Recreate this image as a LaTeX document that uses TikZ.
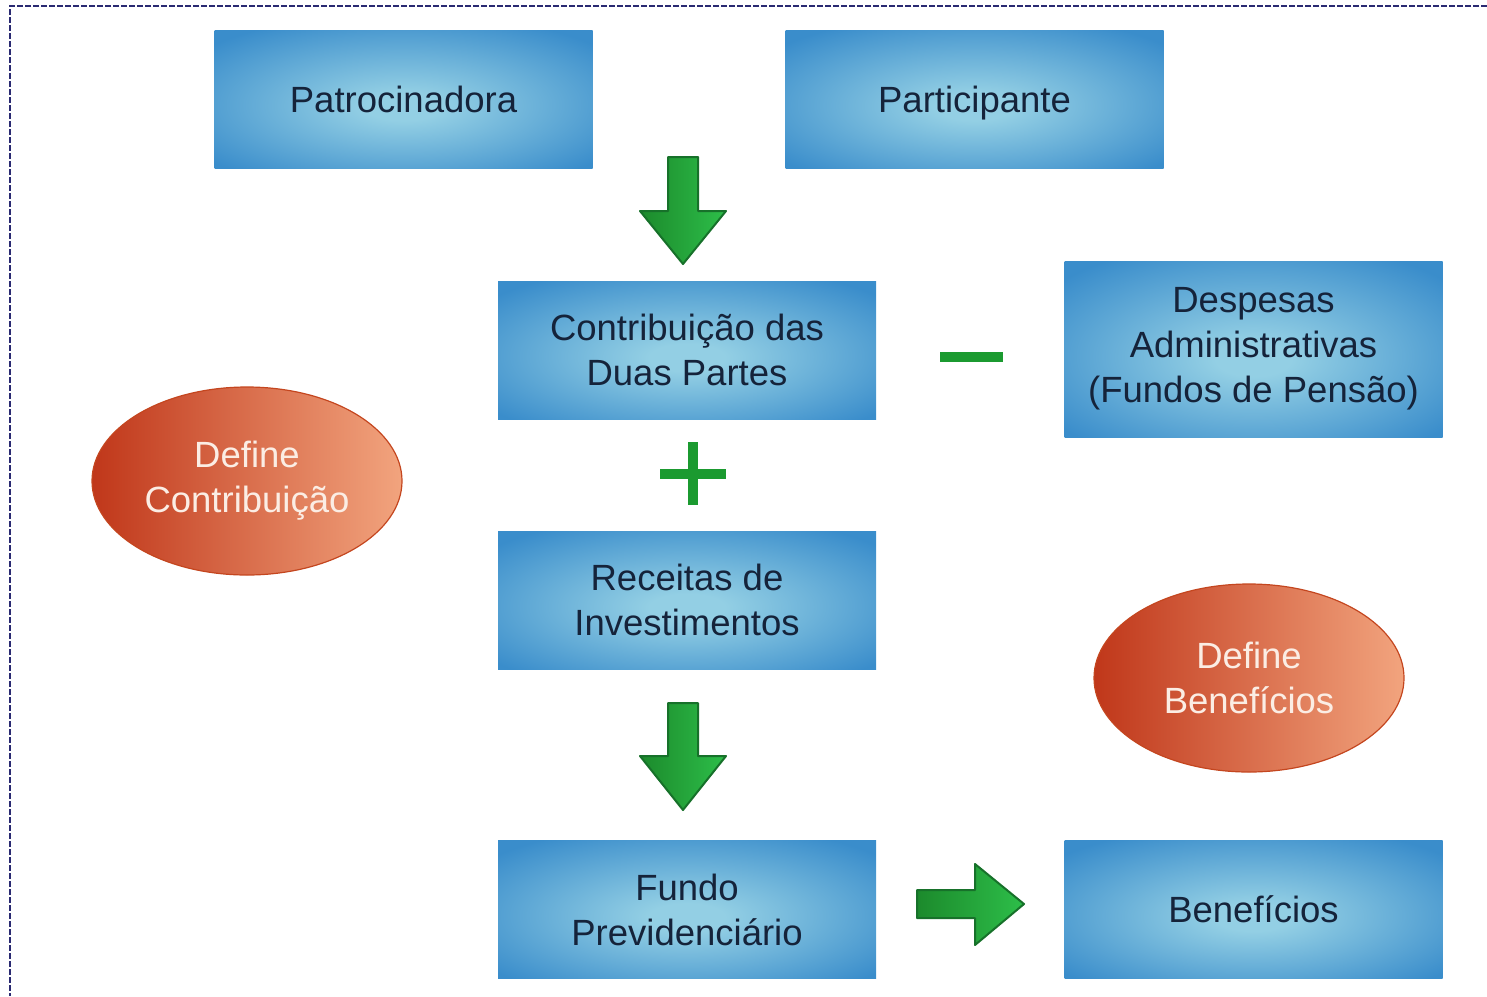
\documentclass[tikz,border=0pt]{standalone}
\usepackage{fontspec}
\setmainfont{Liberation Sans}
\usetikzlibrary{shapes.geometric}
\definecolor{boxlight}{HTML}{93CFE4}
\definecolor{boxdark}{HTML}{3A8DCB}
\definecolor{txt}{HTML}{15233A}
\definecolor{elldark}{HTML}{C0371A}
\definecolor{elllight}{HTML}{F2A47E}
\definecolor{ellborder}{HTML}{C4461F}
\definecolor{elltxt}{HTML}{FBEDE4}
\definecolor{grdark}{HTML}{1C8A2C}
\definecolor{grlight}{HTML}{2DBE49}
\definecolor{grborder}{HTML}{17712A}
\definecolor{sign}{HTML}{1B9A30}
\definecolor{frame}{HTML}{2A2A72}
\pgfdeclareradialshading{boxshade}{\pgfpoint{0bp}{-3bp}}{color(0bp)=(boxlight); color(5bp)=(boxlight); color(33bp)=(boxdark); color(70bp)=(boxdark)}
\tikzset{
  bluebox/.style={rectangle, minimum width=378pt, minimum height=138pt, inner sep=0pt,
    shading=boxshade, text=txt,
    align=center, font=\fontsize{36.5}{45}\selectfont},
  oneline/.style={text depth=0pt},
  oval/.style={ellipse, minimum width=310pt, minimum height=188pt, inner sep=0pt,
    draw=ellborder, line width=1.2pt, left color=elldark, right color=elllight,
    text=elltxt, align=center, font=\fontsize{36.5}{45}\selectfont},
  fatarrow/.style={draw=grborder, line width=2pt, line join=round,
    left color=grdark, right color=grlight},
  signline/.style={draw=sign, line width=10pt},
  framedash/.style={draw=frame, line width=2.2pt, dash pattern=on 6pt off 2pt}
}
\begin{document}
\begin{tikzpicture}[x=1pt,y=-1pt]
\useasboundingbox (0,0) rectangle (1487,996);
\draw[framedash] (1487,6) -- (10,6) -- (10,996);

\node[bluebox, oneline] (patro) at (403.5,99) {Patrocinadora};
\node[bluebox, oneline] (partic) at (974.5,99) {Participante};
\node[bluebox] (contrib) at (687,350) {Contribuição das\\Duas Partes};
\node[bluebox, minimum height=176pt] (desp) at (1253.5,349) {Despesas\\Administrativas\\(Fundos de Pensão)};
\node[bluebox] (receitas) at (687,600) {Receitas de\\Investimentos};
\node[bluebox] (fundo) at (687,909.5) {Fundo\\Previdenciário};
\node[bluebox, oneline] (benef) at (1253.5,909.5) {Benefícios};

\node[oval] (defc) at (247,481) {Define\\Contribuição};
\node[oval] (defb) at (1249,678) {Define\\Benefícios};

% green block arrows
\path[fatarrow] (668,157) -- (698,157) -- (698,211) -- (726,211) -- (683,264) -- (640,211) -- (668,211) -- cycle;
\path[fatarrow] (668,703) -- (698,703) -- (698,756) -- (726,756) -- (683,810) -- (640,756) -- (668,756) -- cycle;
\path[fatarrow] (917,890) -- (975,890) -- (975,864) -- (1024,904) -- (975,945) -- (975,918) -- (917,918) -- cycle;

% signs
\coordinate (m1) at (940,357);
\coordinate (m2) at (1003,357);
\draw[signline] (m1) -- (m2);
\coordinate (p1) at (660,474);
\coordinate (p2) at (726,474);
\coordinate (p3) at (693,442);
\coordinate (p4) at (693,505);
\draw[signline] (p1) -- (p2);
\draw[signline] (p3) -- (p4);
\end{tikzpicture}
\end{document}
